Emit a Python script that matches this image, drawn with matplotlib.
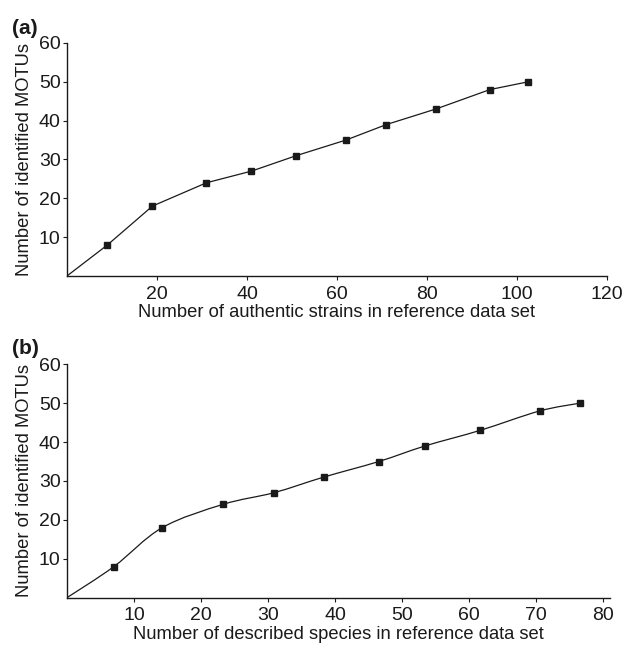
import matplotlib
matplotlib.use('Agg')
import matplotlib.pyplot as plt
from matplotlib.path import Path
from matplotlib.patches import PathPatch
import numpy as np

plt.rcParams['font.family'] = ['Liberation Sans', 'DejaVu Sans']

# (a) authentic strains vs MOTUs
strains = [0, 9, 19, 31, 41, 51, 62, 71, 82, 94, 102.5]
motus_a = [0, 8, 18, 24, 27, 31, 35, 39, 43, 48, 50]

# (b) described species vs MOTUs
species = [0, 7, 14.2, 23.3, 30.9, 38.3, 46.5, 53.4, 61.6, 70.5, 76.5]
motus_b = [0, 8, 18, 24, 27, 31, 35, 39, 43, 48, 50]

ink = '#1a1a1a'


def smooth_path(x, y):
    # Excel-style smoothed line: cubic Bezier segments through every point
    x = np.asarray(x, float)
    y = np.asarray(y, float)
    n = len(x)
    verts = [(x[0], y[0])]
    codes = [Path.MOVETO]
    for i in range(n - 1):
        p0 = np.array([x[max(i - 1, 0)], y[max(i - 1, 0)]])
        p1 = np.array([x[i], y[i]])
        p2 = np.array([x[i + 1], y[i + 1]])
        p3 = np.array([x[min(i + 2, n - 1)], y[min(i + 2, n - 1)]])
        c1 = p1 + (p2 - p0) / 6.0
        c2 = p2 - (p3 - p1) / 6.0
        verts += [tuple(c1), tuple(c2), tuple(p2)]
        codes += [Path.CURVE4] * 3
    return Path(verts, codes)


def style(ax, xlim, xticks):
    ax.set_xlim(*xlim)
    ax.set_ylim(0, 60)
    ax.set_xticks(xticks)
    ax.set_yticks([10, 20, 30, 40, 50, 60])
    ax.spines['top'].set_visible(False)
    ax.spines['right'].set_visible(False)
    for s in ['left', 'bottom']:
        ax.spines[s].set_linewidth(1.0)
        ax.spines[s].set_color(ink)
    ax.tick_params(direction='out', length=3, width=0.8, colors=ink,
                   labelsize=14)
    ax.tick_params(axis='x', pad=4)
    ax.tick_params(axis='y', pad=1.5)
    ax.set_ylabel('Number of identified MOTUs', fontsize=13.2, labelpad=4, color=ink)


fig = plt.figure(figsize=(6.26, 6.46), dpi=100)

ax1 = fig.add_axes([0.107, 0.5728, 0.8626, 0.3607])
ax1.plot(strains, motus_a, color=ink, lw=0.9)
ax1.plot(strains[1:], motus_a[1:], ls='none', marker='s', ms=4.8, color=ink)
style(ax1, (0, 120), [20, 40, 60, 80, 100, 120])
ax1.set_xlabel('Number of authentic strains in reference data set',
               fontsize=13.2, labelpad=1, color=ink)
fig.text(0.019, 0.948, '(a)', fontsize=15, fontweight='bold', color=ink)

ax2 = fig.add_axes([0.107, 0.0748, 0.8675, 0.3613])
ax2.add_patch(PathPatch(smooth_path(species, motus_b), fill=False,
                        edgecolor=ink, lw=0.9))
ax2.plot(species[1:], motus_b[1:], ls='none', marker='s', ms=4.8, color=ink)
style(ax2, (0, 81), [10, 20, 30, 40, 50, 60, 70, 80])
ax2.set_xlabel('Number of described species in reference data set',
               fontsize=13.2, labelpad=1, color=ink)
fig.text(0.019, 0.452, '(b)', fontsize=15, fontweight='bold', color=ink)

fig.savefig('out.png', dpi=100)
